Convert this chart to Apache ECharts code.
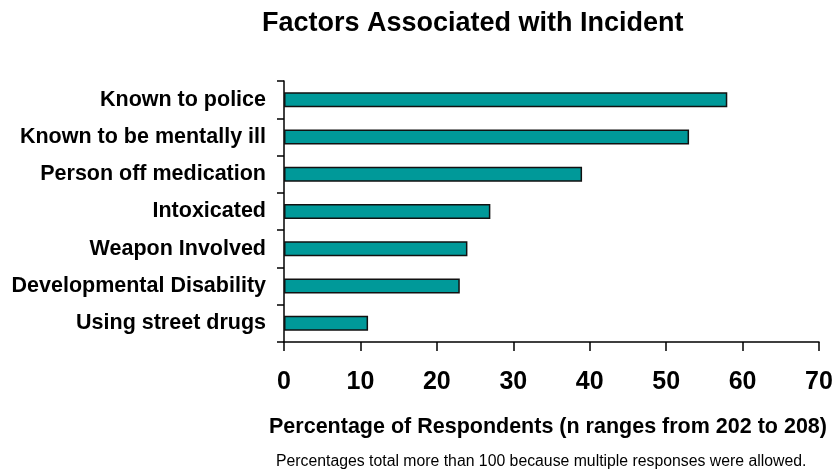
<!DOCTYPE html>
<html>
<head>
<meta charset="utf-8">
<script src="https://cdn.jsdelivr.net/npm/echarts@6/dist/echarts.min.js"></script>
<style>html,body{margin:0;padding:0;background:#fff}#c{width:835px;height:476px}</style>
</head>
<body>
<div id="c"></div>
<script>
const categories = ["Known to police","Known to be mentally ill","Person off medication","Intoxicated","Weapon Involved","Developmental Disability","Using street drugs"];
const values = [58, 53, 39, 27, 24, 23, 11];
const xTicks = [0, 10, 20, 30, 40, 50, 60, 70];

const FONT = '"Liberation Sans", Arial, sans-serif';
const chart = echarts.init(document.getElementById('c'), null, {renderer: 'canvas'});
chart.setOption({
  animation: false,
  backgroundColor: '#ffffff',
  title: {
    text: 'Factors Associated with Incident',
    left: 257, top: 5,
    textStyle: {fontFamily: FONT, fontWeight: 'bold', fontSize: 27, color: '#000'}
  },
  grid: {left: 284, right: 16, top: 81, bottom: 134, containLabel: false, outerBoundsMode: 'none'},
  xAxis: {
    type: 'value', min: xTicks[0], max: xTicks[xTicks.length-1], interval: 10,
    name: 'Percentage of Respondents (n ranges from 202 to 208)',
    nameLocation: 'middle', nameGap: 74,
    nameTextStyle: {fontFamily: FONT, fontWeight: 'bold', fontSize: 21.5, color: '#000', padding: [0, 7, 0, 0]},
    axisLine: {show: true, lineStyle: {color: '#000', width: 1.5}},
    axisTick: {show: true, length: 9, lineStyle: {color: '#000', width: 1.5}},
    axisLabel: {margin: 28, fontFamily: FONT, fontWeight: 'bold', fontSize: 25, color: '#000'},
    splitLine: {show: false}
  },
  yAxis: {
    type: 'category', data: categories, inverse: true,
    axisLine: {show: true, lineStyle: {color: '#000', width: 1.5}},
    axisTick: {show: true, length: 7, alignWithLabel: false, lineStyle: {color: '#000', width: 1.5}},
    axisLabel: {margin: 18, fontFamily: FONT, fontWeight: 'bold', fontSize: 21.5, color: '#000'}
  },
  series: [{
    type: 'bar', data: values, barWidth: 15,
    itemStyle: {color: '#009999', borderColor: '#111', borderWidth: 1.5}
  }],
  graphic: [{
    type: 'text', left: 276, top: 454,
    style: {text: 'Percentages total more than 100 because multiple responses were allowed.', fontFamily: FONT, fontSize: 15.8, fill: '#000'}
  }]
});
</script>
</body>
</html>
